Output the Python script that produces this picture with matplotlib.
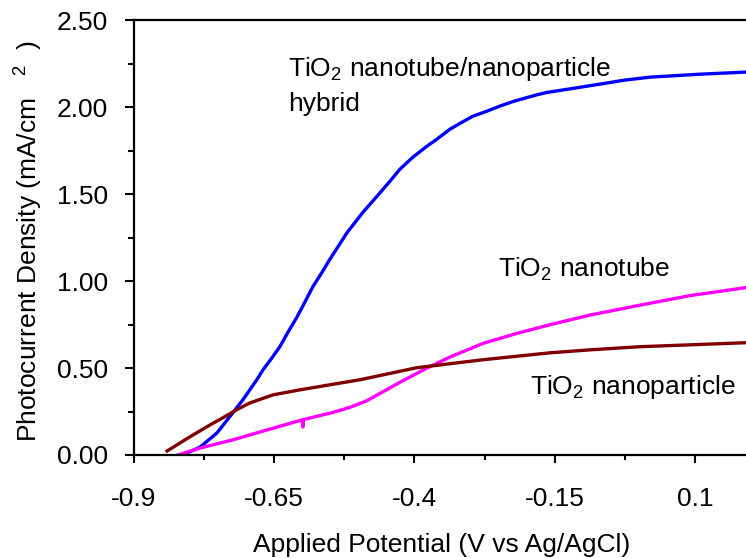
import numpy as np
import matplotlib
matplotlib.use("Agg")
import matplotlib.pyplot as plt
from matplotlib.ticker import FixedLocator, MultipleLocator, FormatStrFormatter

plt.rcParams['font.family'] = ['Liberation Sans', 'DejaVu Sans']
plt.rcParams['mathtext.fontset'] = 'custom'
plt.rcParams['mathtext.rm'] = 'Liberation Sans'
plt.rcParams['mathtext.it'] = 'Liberation Sans'

# hybrid nanotube/nanoparticle (blue)
hybrid_v = [-0.813, -0.782, -0.752, -0.724, -0.706, -0.681, -0.670, -0.654,
            -0.640, -0.625, -0.609, -0.595, -0.581, -0.565, -0.551, -0.536,
            -0.520, -0.506, -0.492, -0.467, -0.444, -0.426, -0.403, -0.378,
            -0.360, -0.337, -0.315, -0.296, -0.271, -0.248, -0.224, -0.200,
            -0.182, -0.164, -0.114, -0.069, -0.025, 0.020, 0.109, 0.191]
hybrid_j = [0.0, 0.046, 0.127, 0.242, 0.317, 0.433, 0.490, 0.559,
            0.623, 0.709, 0.796, 0.882, 0.969, 1.050, 1.125, 1.200,
            1.280, 1.338, 1.396, 1.488, 1.574, 1.644, 1.713, 1.776,
            1.817, 1.874, 1.915, 1.949, 1.978, 2.007, 2.034, 2.056,
            2.072, 2.086, 2.111, 2.134, 2.157, 2.174, 2.191, 2.203]

# nanotube (magenta)
tube_v = [-0.822, -0.782, -0.724, -0.663, -0.600, -0.599, -0.598, -0.545,
          -0.515, -0.485, -0.426, -0.378, -0.337, -0.278, -0.217, -0.158,
          -0.087, 0.002, 0.091, 0.191]
tube_j = [0.0, 0.040, 0.087, 0.144, 0.202, 0.161, 0.204, 0.245,
          0.274, 0.312, 0.418, 0.500, 0.563, 0.642, 0.700, 0.750,
          0.805, 0.862, 0.917, 0.963]

# nanoparticle (dark red)
particle_v = [-0.841, -0.800, -0.765, -0.741, -0.716, -0.693, -0.652, -0.604,
              -0.497, -0.396, -0.278, -0.158, -0.087, 0.002, 0.191]
particle_j = [0.023, 0.105, 0.172, 0.215, 0.262, 0.300, 0.346, 0.375,
              0.433, 0.502, 0.548, 0.588, 0.605, 0.623, 0.646]

x_ticks = [-0.9, -0.65, -0.4, -0.15, 0.1]
x_tick_labels = ['-0.9', '-0.65', '-0.4', '-0.15', '0.1']
x_minor = [-0.775, -0.525, -0.275, -0.025]

fs = 19

fig = plt.figure(figsize=(7.46, 5.58), dpi=100)
ax = fig.add_axes([0.1796, 0.1846, 0.8204, 0.7787])

ax.plot(hybrid_v, hybrid_j, color='#0000FF', lw=2.4, solid_joinstyle='round')
ax.plot(tube_v, tube_j, color='#FF00FF', lw=2.4, solid_joinstyle='round')
ax.plot(particle_v, particle_j, color='#800000', lw=2.4, solid_joinstyle='round')

ax.set_xlim(-0.9, 0.191)
ax.set_ylim(0, 2.5)

ax.xaxis.set_major_locator(FixedLocator(x_ticks))
ax.set_xticklabels(x_tick_labels)
ax.xaxis.set_minor_locator(FixedLocator(x_minor))
ax.yaxis.set_major_locator(MultipleLocator(0.5))
ax.yaxis.set_minor_locator(MultipleLocator(0.25))
ax.yaxis.set_major_formatter(FormatStrFormatter('%.2f'))

for s in ['left', 'bottom', 'top']:
    ax.spines[s].set_linewidth(1.6)
ax.spines['right'].set_visible(False)

ax.tick_params(axis='x', which='major', direction='out', length=6, width=1.5, pad=17, labelsize=fs)
ax.tick_params(axis='x', which='minor', direction='out', length=3.5, width=1.5)
ax.tick_params(axis='y', which='major', direction='out', length=6.5, width=1.5, pad=12, labelsize=fs)
ax.tick_params(axis='y', which='minor', direction='out', length=4.5, width=1.5)

ax.set_xlabel('Applied Potential (V vs Ag/AgCl)', fontsize=fs)
ax.xaxis.set_label_coords(0.503, -0.18)
ax.set_ylabel(r'Photocurrent Density (mA/cm   $^{2}$  )', fontsize=fs)
ax.yaxis.set_label_coords(-0.145, 0.492)

ax.text(-0.6255, 2.18, r'TiO$_2$ nanotube/nanoparticle', fontsize=fs, va='baseline')
ax.text(-0.6255, 1.978, 'hybrid', fontsize=fs, va='baseline')
ax.text(-0.251, 1.028, r'TiO$_2$ nanotube', fontsize=fs, va='baseline')
ax.text(-0.194, 0.352, r'TiO$_2$ nanoparticle', fontsize=fs, va='baseline')

fig.savefig('out.png', dpi=100)
